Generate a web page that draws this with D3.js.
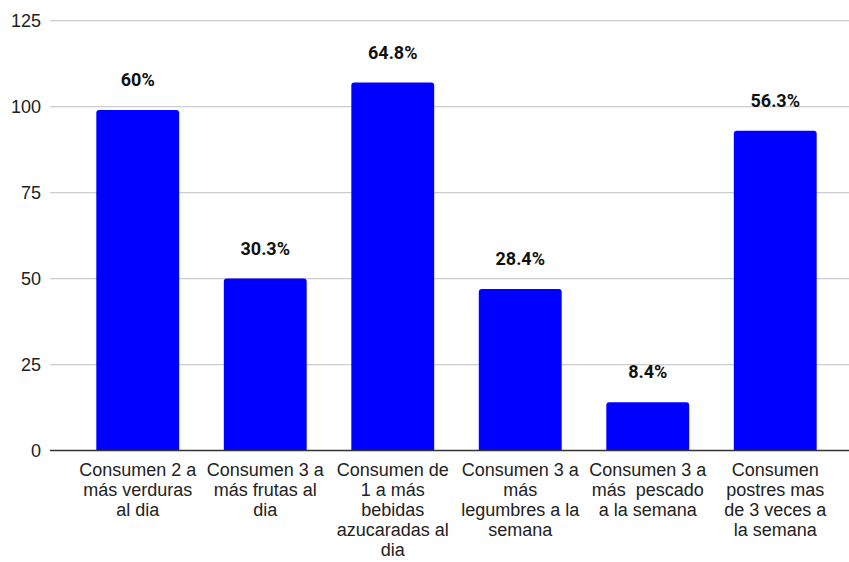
<!DOCTYPE html>
<html>
<head>
<meta charset="utf-8">
<script src="https://cdn.jsdelivr.net/npm/d3@7"></script>
<style>
  body { margin: 0; background: #fff; }
  svg { display: block; }
</style>
</head>
<body>
<script>
// categories split into the lines shown under each bar
const categories = [
    "Consumen 2 a\nmás verduras\nal dia",
    "Consumen 3 a\nmás frutas al\ndia",
    "Consumen de\n1 a más\nbebidas\nazucaradas al\ndia",
    "Consumen 3 a\nmás\nlegumbres a la\nsemana",
    "Consumen 3 a\nmás  pescado\na la semana",
    "Consumen\npostres mas\nde 3 veces a\nla semana"
];
const counts = [99, 50, 107, 47, 14, 93];
const percentLabels = ["60%", "30.3%", "64.8%", "28.4%", "8.4%", "56.3%"];
const yTicks = [0, 25, 50, 75, 100, 125];

const width = 849;
const height = 562;

const svg = d3.select("body")
              .append("svg")
              .attr("width", width)
              .attr("height", height);

const xScale = d3.scaleBand()
                 .domain(categories)
                 .range([74, 839])
                 .paddingInner(0.35)
                 .paddingOuter(0.175);

const yScale = d3.scaleLinear()
                 .domain([0, 125])
                 .range([450.5, 20.7]);

// grid lines
const grid = svg.append("g").attr("class", "grid");
grid.selectAll("line")
    .data(yTicks.filter(t => t > 0))
    .enter()
    .append("line")
    .attr("x1", 50)
    .attr("x2", width)
    .attr("y1", d => yScale(d))
    .attr("y2", d => yScale(d))
    .attr("stroke", "#cccccc")
    .attr("stroke-width", 1.3);

// y axis labels
const yAxis = d3.axisLeft(yScale).tickValues(yTicks).tickSize(0).tickPadding(0);
svg.append("g")
   .attr("transform", "translate(41, 0)")
   .call(yAxis)
   .call(g => g.select(".domain").remove())
   .call(g => g.selectAll("text")
               .attr("font-family", "'Liberation Sans', Arial, sans-serif")
               .attr("font-size", 18)
               .attr("fill", "#222"));

// bars with slightly rounded tops
const r = 3;
svg.selectAll("path.bar")
   .data(counts)
   .enter()
   .append("path")
   .attr("class", "bar")
   .attr("fill", "#0000ff")
   .attr("d", (d, i) => {
       const x0 = xScale(categories[i]);
       const w = xScale.bandwidth();
       const y0 = yScale(d);
       const yb = yScale(0);
       return `M${x0},${yb} V${y0 + r} Q${x0},${y0} ${x0 + r},${y0} H${x0 + w - r} Q${x0 + w},${y0} ${x0 + w},${y0 + r} V${yb} Z`;
   });

// baseline
svg.append("line")
   .attr("x1", 50)
   .attr("x2", width)
   .attr("y1", yScale(0))
   .attr("y2", yScale(0))
   .attr("stroke", "#333")
   .attr("stroke-width", 1.3);

// value labels
svg.selectAll("text.value")
   .data(counts)
   .enter()
   .append("text")
   .attr("class", "value")
   .attr("x", (d, i) => xScale(categories[i]) + xScale.bandwidth() / 2)
   .attr("y", d => yScale(d) - 24)
   .attr("text-anchor", "middle")
   .attr("font-family", "Roboto, sans-serif")
   .attr("font-weight", "bold")
   .attr("font-size", 18)
   .attr("fill", "#111")
   .text((d, i) => percentLabels[i]);

// x axis labels, multi-line
const xLabels = svg.selectAll("text.cat")
   .data(categories)
   .enter()
   .append("text")
   .attr("class", "cat")
   .attr("x", d => xScale(d) + xScale.bandwidth() / 2)
   .attr("y", 476)
   .attr("text-anchor", "middle")
   .attr("font-family", "'Liberation Sans', Arial, sans-serif")
   .attr("font-size", 18)
   .attr("fill", "#222")
   .style("white-space", "pre");

xLabels.each(function(d) {
    const t = d3.select(this);
    d.split("\n").forEach((line, j) => {
        t.append("tspan")
         .attr("x", xScale(d) + xScale.bandwidth() / 2)
         .attr("dy", j === 0 ? 0 : 20)
         .text(line);
    });
});
</script>
</body>
</html>
